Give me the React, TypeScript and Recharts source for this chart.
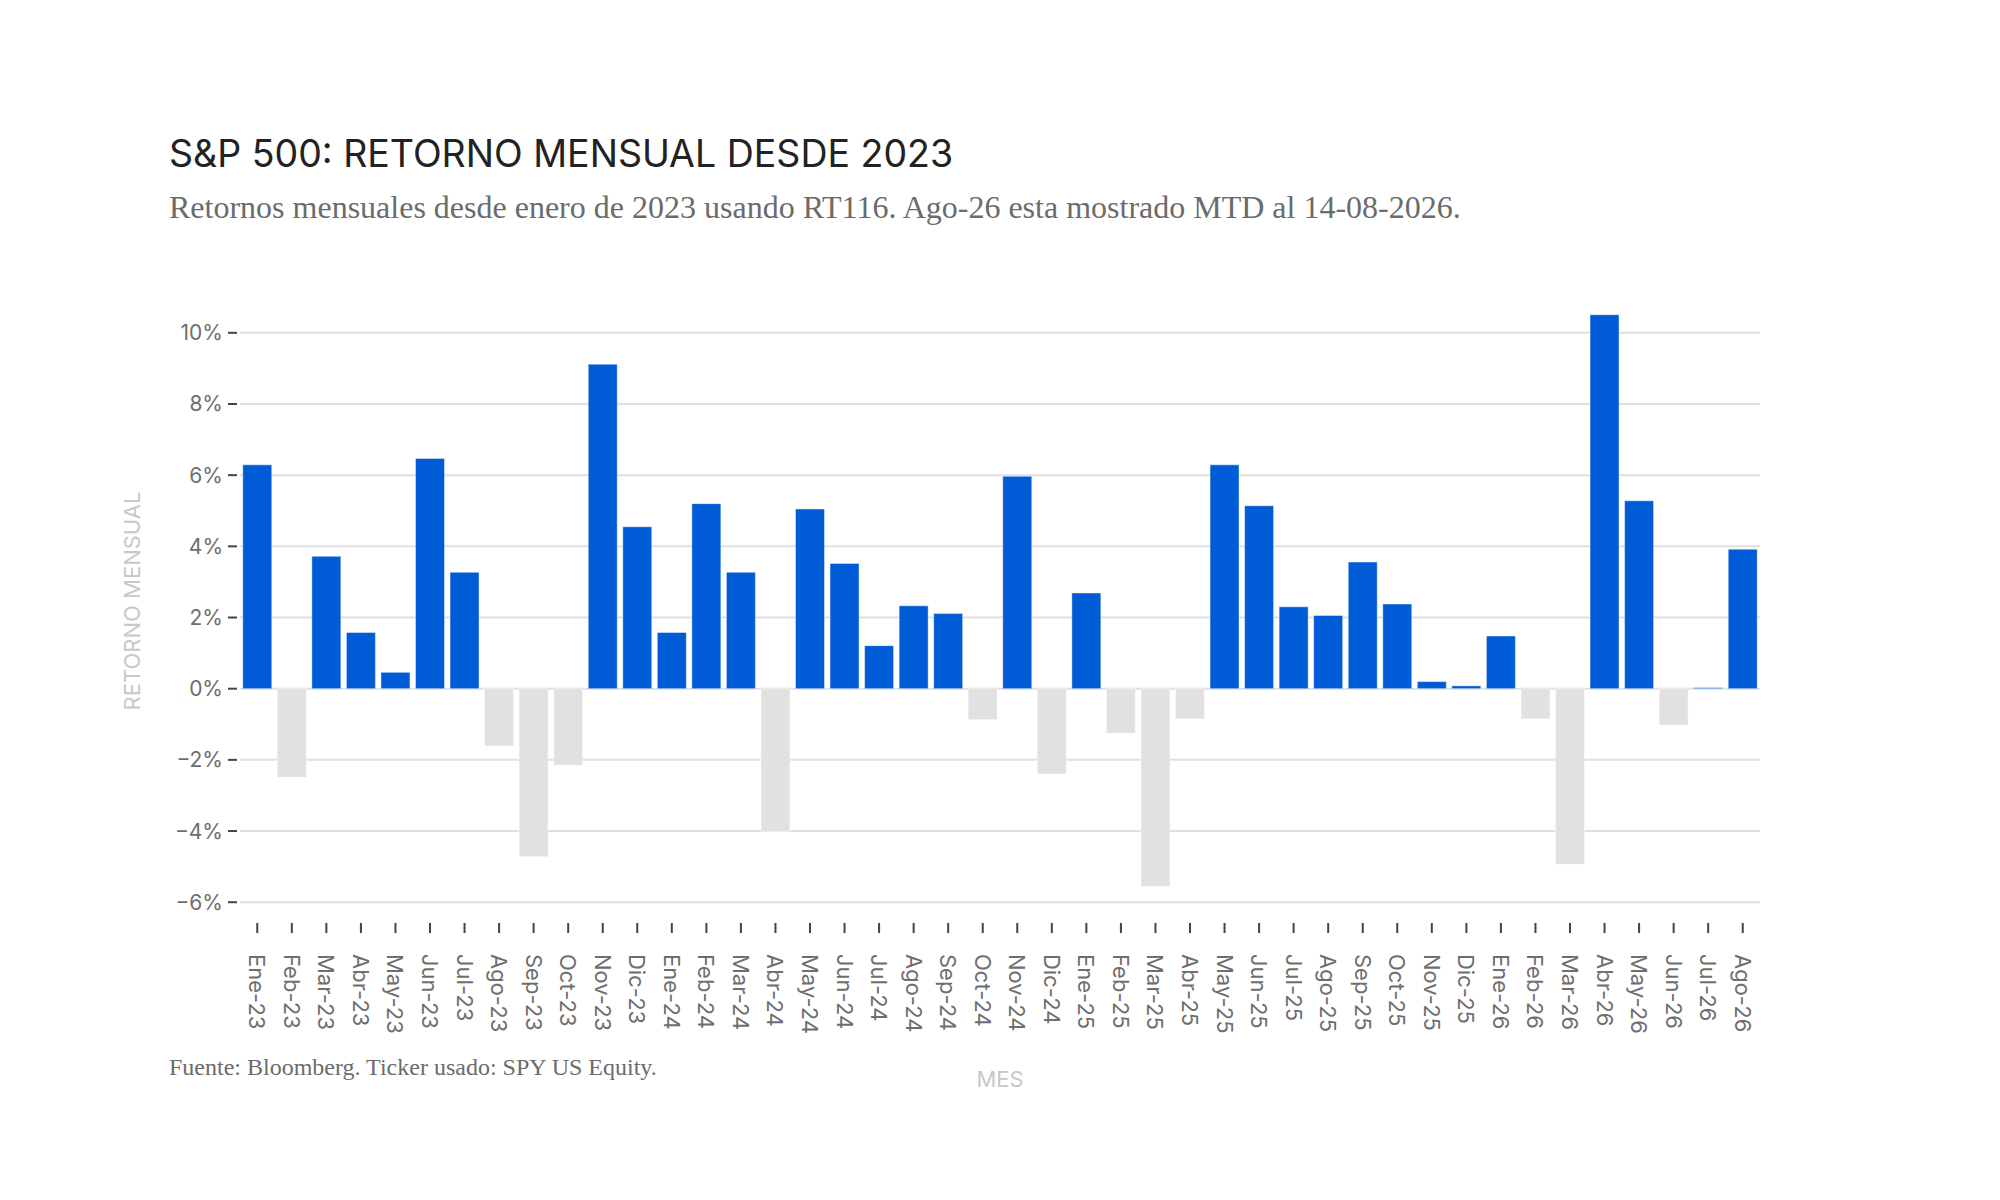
import React from 'react'
import { BarChart, Bar, Cell, XAxis, YAxis, CartesianGrid } from 'recharts'

// Meses (eje X) y retorno mensual en %
const MONTHS = [
  'Ene-23', 'Feb-23', 'Mar-23', 'Abr-23', 'May-23', 'Jun-23', 'Jul-23', 'Ago-23', 'Sep-23', 'Oct-23', 'Nov-23', 'Dic-23',
  'Ene-24', 'Feb-24', 'Mar-24', 'Abr-24', 'May-24', 'Jun-24', 'Jul-24', 'Ago-24', 'Sep-24', 'Oct-24', 'Nov-24', 'Dic-24',
  'Ene-25', 'Feb-25', 'Mar-25', 'Abr-25', 'May-25', 'Jun-25', 'Jul-25', 'Ago-25', 'Sep-25', 'Oct-25', 'Nov-25', 'Dic-25',
  'Ene-26', 'Feb-26', 'Mar-26', 'Abr-26', 'May-26', 'Jun-26', 'Jul-26', 'Ago-26',
]

const RETURNS = [
  6.29, -2.49, 3.72, 1.58, 0.46, 6.47, 3.27, -1.61, -4.72, -2.15, 9.12, 4.55,
  1.58, 5.2, 3.27, -4.01, 5.05, 3.52, 1.21, 2.33, 2.11, -0.87, 5.97, -2.4,
  2.69, -1.25, -5.56, -0.85, 6.29, 5.14, 2.3, 2.06, 3.56, 2.38, 0.2, 0.08,
  1.48, -0.85, -4.93, 10.51, 5.28, -1.02, 0.03, 3.92,
]

const Y_TICKS = [-6, -4, -2, 0, 2, 4, 6, 8, 10]

const TITLE = 'S&P 500: RETORNO MENSUAL DESDE 2023'
const SUBTITLE = 'Retornos mensuales desde enero de 2023 usando RT116. Ago-26 esta mostrado MTD al 14-08-2026.'
const SOURCE = 'Fuente: Bloomberg. Ticker usado: SPY US Equity.'

const POS = '#005bd6'
const NEG = '#e1e1e1'
const SANS = 'Inter, "Noto Sans", sans-serif'
const SERIF = '"Liberation Serif", "Times New Roman", serif'

const data = MONTHS.map((m, i) => ({ month: m, ret: RETURNS[i] }))

const fmtPct = (v: number) => (v < 0 ? '\u2212' + Math.abs(v) : String(v)) + '%'

function YTick({ x, y, payload }: any) {
  return (
    <g>
      <line x1={x - 12} x2={x - 3} y1={y} y2={y} stroke="#444" strokeWidth={2} />
      <text x={x - 17} y={y} textAnchor="end" dominantBaseline="central" fill="#6e6e6e" fontSize={21} fontFamily={SANS}>
        {fmtPct(payload.value)}
      </text>
    </g>
  )
}

function XTick({ x, y, payload }: any) {
  const ty = y + 34
  return (
    <g>
      <line x1={x} x2={x} y1={y + 3} y2={y + 13} stroke="#444" strokeWidth={2} />
      <text
        x={x}
        y={ty}
        transform={`rotate(90, ${x}, ${ty})`}
        textAnchor="start"
        dominantBaseline="central"
        fill="#6e6e6e"
        fontSize={22}
        fontFamily={SANS}
      >
        {payload.value}
      </text>
    </g>
  )
}

export default function App() {
  return (
    <div style={{ position: 'absolute', left: 0, top: 0, width: 2000, height: 1200, background: '#fff' }}>
      <BarChart
        width={2000}
        height={1200}
        data={data}
        margin={{ top: 283, right: 240, bottom: 220, left: 180 }}
        barCategoryGap="8%"
      >
        <CartesianGrid vertical={false} horizontalValues={Y_TICKS} stroke="#e0e0e0" strokeWidth={2} />
        <XAxis
          dataKey="month"
          interval={0}
          height={60}
          axisLine={false}
          tickLine={false}
          tickSize={0}
          tickMargin={0}
          tick={<XTick />}
        />
        <YAxis
          type="number"
          domain={[-6.5, 11.4]}
          ticks={Y_TICKS}
          allowDataOverflow
          width={60}
          axisLine={false}
          tickLine={false}
          tickSize={0}
          tickMargin={0}
          tick={<YTick />}
        />
        <Bar dataKey="ret" isAnimationActive={false} stroke="rgba(255,255,255,0.45)" strokeWidth={1}>
          {data.map((d, i) => (
            <Cell key={`c-${i}`} fill={d.ret >= 0 ? POS : NEG} />
          ))}
        </Bar>
      </BarChart>
      <svg width={2000} height={1200} style={{ position: 'absolute', left: 0, top: 0, pointerEvents: 'none' }}>
        <text x={169} y={167} fontSize={37.5} fontFamily={SANS} fill="#222">{TITLE}</text>
        <text x={169} y={218} fontSize={32} fontFamily={SERIF} fill="#6b6b6b">{SUBTITLE}</text>
        <text x={169} y={1075} fontSize={24} fontFamily={SERIF} fill="#6b6b6b">{SOURCE}</text>
        <text
          x={132}
          y={601}
          transform="rotate(-90, 132, 601)"
          textAnchor="middle"
          dominantBaseline="central"
          fontSize={22}
          fontFamily={SANS}
          fill="#c8c8c8"
        >
          RETORNO MENSUAL
        </text>
        <text x={1000} y={1079} textAnchor="middle" dominantBaseline="central" fontSize={22} fontFamily={SANS} fill="#c8c8c8">
          MES
        </text>
      </svg>
    </div>
  )
}
